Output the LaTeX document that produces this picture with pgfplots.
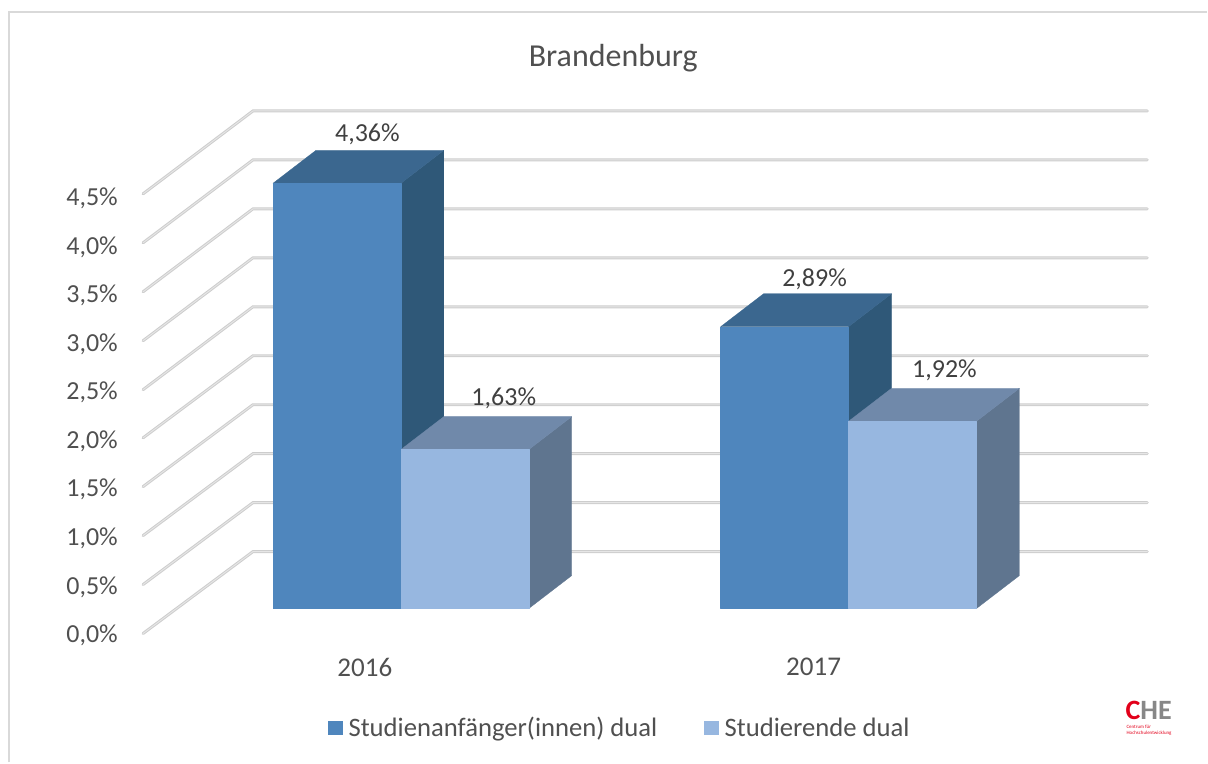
\documentclass[border=0pt]{standalone}
\usepackage{fontspec}
\setmainfont{Carlito}
\usepackage{pgfplots}
\pgfplotsset{compat=1.18}
\definecolor{frontA}{HTML}{4F86BD}
\definecolor{topA}{HTML}{3B678F}
\definecolor{sideA}{HTML}{2F5878}
\definecolor{frontB}{HTML}{97B7E0}
\definecolor{topB}{HTML}{7089AA}
\definecolor{sideB}{HTML}{5F758F}
\definecolor{gridc}{HTML}{CDCDCD}
\definecolor{gridi}{HTML}{E6E6E6}
\definecolor{framec}{HTML}{D9D9D9}
\definecolor{txt}{HTML}{505050}
\definecolor{lab}{HTML}{404040}
\definecolor{chered}{HTML}{E2001A}
\definecolor{chegray}{HTML}{878787}
\pgfplotsset{
  wall/.style={gridc,line width=2.2pt,no markers,forget plot,line join=miter,line cap=round,
    postaction={draw=gridi,line width=0.7pt}},
  face/.style={draw=#1,fill=#1,line width=0.2pt,no markers,forget plot,line join=round},
}
\begin{document}
\begin{tikzpicture}
\begin{axis}[
  scale only axis,
  width=906pt,height=572.25pt,
  xmin=0,xmax=1208,ymin=-1.5779,ymax=6.2398,
  clip=false,
  axis line style={draw=none},
  major tick length=0pt,
  xtick pos=bottom,ytick pos=left,
  xtick={365,814},
  xticklabels={2016,2017},
  ytick={-0.246,0.252,0.750,1.248,1.746,2.244,2.742,3.240,3.738,4.236},
  yticklabels={0{,}0\%,0{,}5\%,1{,}0\%,1{,}5\%,2{,}0\%,2{,}5\%,3{,}0\%,3{,}5\%,4{,}0\%,4{,}5\%},
  x tick label style={anchor=center,yshift=71.5pt,inner sep=0pt,text=txt,font=\fontsize{20.3}{22}\selectfont},
  y tick label style={anchor=east,xshift=88.5pt,yshift=-2.2pt,inner sep=0pt,text=txt,font=\fontsize{19.5}{22}\selectfont},
  title={Brandenburg},
  title style={at={(0.5079,0.9135)},anchor=center,inner sep=0pt,text=txt,font=\fontsize{24}{28}\selectfont},
  legend columns=2,
  legend cell align=left,
  legend style={at={(axis cs:328,-1.223)},anchor=west,draw=none,fill=none,inner sep=0pt,outer sep=0pt,
    font=\fontsize{20}{22}\selectfont,text=txt,
    /tikz/every even column/.append style={column sep=33pt},
    /tikz/every odd column/.append style={column sep=2.5pt}},
  legend image code/.code={\fill[draw=none,#1] (0pt,-5.4pt) rectangle (11pt,5.4pt);},
]
% frame
\addplot[framec,line width=1.1pt,no markers,forget plot] coordinates {(9,-1.5779)(9,6.117)(1208,6.117)};
% walls and gridlines
\addplot[wall] coordinates {(143,-0.256)(253,0.584)(1148,0.584)};
\addplot[wall] coordinates {(143,0.246)(253,1.086)(1148,1.086)};
\addplot[wall] coordinates {(143,0.748)(253,1.588)(1148,1.588)};
\addplot[wall] coordinates {(143,1.250)(253,2.090)(1148,2.090)};
\addplot[wall] coordinates {(143,1.750)(253,2.592)(1148,2.592)};
\addplot[wall] coordinates {(143,2.244)(253,3.094)(1148,3.094)};
\addplot[wall] coordinates {(143,2.746)(253,3.596)(1148,3.596)};
\addplot[wall] coordinates {(143,3.248)(253,4.098)(1148,4.098)};
\addplot[wall] coordinates {(143,3.750)(253,4.600)(1148,4.600)};
\addplot[wall] coordinates {(143,4.252)(253,5.102)(1148,5.102)};
% 2016 Studienanfaenger
\addplot[face=sideA] coordinates {(401,0)(444,0.338)(444,4.698)(401,4.36)} --cycle;
\addplot[face=topA] coordinates {(273,4.36)(401,4.36)(444,4.698)(316,4.698)} --cycle;
\addplot[face=frontA] coordinates {(273,0)(401,0)(401,4.36)(273,4.36)} --cycle;
% 2016 Studierende
\addplot[face=sideB] coordinates {(529,0)(572,0.338)(572,1.968)(529,1.63)} --cycle;
\addplot[face=topB] coordinates {(401,1.63)(529,1.63)(572,1.968)(444,1.968)} --cycle;
\addplot[face=frontB] coordinates {(401,0)(529,0)(529,1.63)(401,1.63)} --cycle;
% 2017 Studienanfaenger
\addplot[face=sideA] coordinates {(849,0)(892,0.338)(892,3.228)(849,2.89)} --cycle;
\addplot[face=topA] coordinates {(721,2.89)(849,2.89)(892,3.228)(764,3.228)} --cycle;
\addplot[face=frontA] coordinates {(721,0)(849,0)(849,2.89)(721,2.89)} --cycle;
% 2017 Studierende
\addplot[face=sideB] coordinates {(977,0)(1020,0.338)(1020,2.258)(977,1.92)} --cycle;
\addplot[face=topB] coordinates {(849,1.92)(977,1.92)(1020,2.258)(892,2.258)} --cycle;
\addplot[face=frontB] coordinates {(849,0)(977,0)(977,1.92)(849,1.92)} --cycle;
% legend
\addlegendimage{fill=frontA}
\addlegendentry{Studienanfänger(innen) dual}
\addlegendimage{fill=frontB}
\addlegendentry{Studierende dual}
% data labels
\node[text=lab,inner sep=0pt,font=\fontsize{19.5}{22}\selectfont] at (axis cs:367.5,4.862) {4,36\%};
\node[text=lab,inner sep=0pt,font=\fontsize{19.5}{22}\selectfont] at (axis cs:504,2.152) {1,63\%};
\node[text=lab,inner sep=0pt,font=\fontsize{19.5}{22}\selectfont] at (axis cs:815,3.378) {2,89\%};
\node[text=lab,inner sep=0pt,font=\fontsize{19.5}{22}\selectfont] at (axis cs:945,2.444) {1,92\%};
% logo
\node[anchor=west,inner sep=0pt,font=\fontsize{21}{24}\selectfont\bfseries] at (axis cs:1126,-1.04) {\textcolor{chered}{C}\textcolor{chegray}{HE}};
\node[anchor=west,inner sep=0pt,text=chered,font=\fontsize{3.7}{4}\selectfont] at (axis cs:1127,-1.21) {Centrum für};
\node[anchor=west,inner sep=0pt,text=chered,font=\fontsize{3.7}{4}\selectfont] at (axis cs:1127,-1.28) {Hochschulentwicklung};
\end{axis}
\end{tikzpicture}
\end{document}
